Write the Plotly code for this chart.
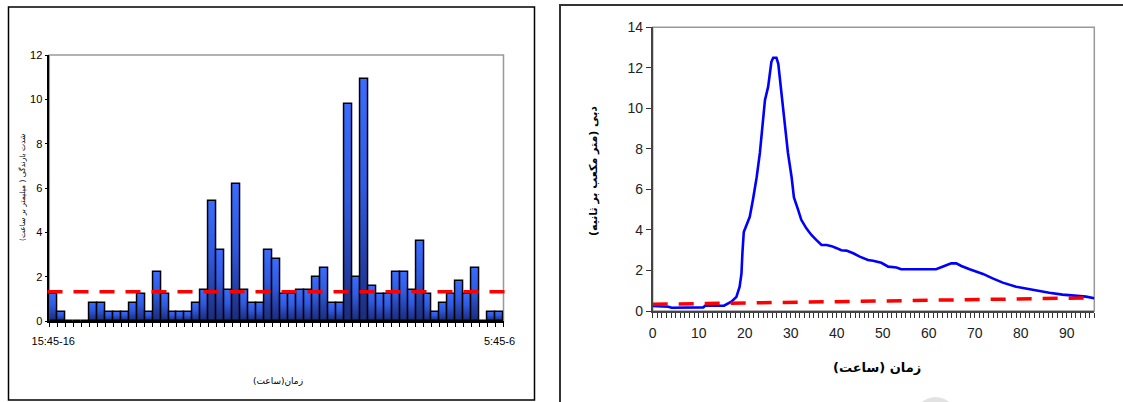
import plotly.graph_objects as go

# ---------------- data ----------------
# left chart: rainfall intensity per 15-minute interval (mm/h)
time_labels = ["15:45-16"]
_h, _m = 16, 0
for _ in range(55):
    _h2, _m2 = (_h, _m + 15) if _m + 15 < 60 else ((_h + 1) % 24, 0)
    a = f"{_h}" if _m == 0 else f"{_h}:{_m:02d}"
    b = f"{_h2}" if _m2 == 0 else f"{_h2}:{_m2:02d}"
    time_labels.append(f"{a}-{b}")
    _h, _m = _h2, _m2
time_labels.append("5:45-6")

rain = [1.2, 0.4, 0, 0, 0, 0.8, 0.8, 0.4, 0.4, 0.4, 0.8, 1.2, 0.4, 2.2, 1.2,
        0.4, 0.4, 0.4, 0.8, 1.4, 5.4, 3.2, 1.4, 6.2, 1.4, 0.8, 0.8, 3.2, 2.8,
        1.2, 1.2, 1.4, 1.4, 2.0, 2.4, 0.8, 0.8, 9.8, 2.0, 10.9, 1.6, 1.2, 1.2,
        2.2, 2.2, 1.4, 3.6, 1.2, 0.4, 0.8, 1.2, 1.8, 1.2, 2.4, 0, 0.4, 0.4]
rain_threshold = 1.32

# right chart: hydrograph (m3/s) vs time (h)
hours = [0, 3.4, 4.1, 11, 11.4, 15.5, 17.1, 18.2, 18.9, 19.3, 19.5, 19.8,
         20.4, 21.1, 21.8, 22.6, 23.3, 24, 24.4, 25.1, 25.8, 26.2, 26.9, 27.3,
         28, 28.7, 29.4, 30.2, 30.7, 31.6, 32.3, 33.4, 34.5, 35.6, 36.7, 37.8,
         38.9, 40, 41, 42.1, 43.6, 45, 46.8, 47.9, 49.7, 51.2, 53, 54,
         61.6, 63.4, 64.9, 66, 67.1, 68.9, 70.3, 71.8, 73.9, 76.1, 79, 81.2,
         83.7, 86.2, 89.1, 92, 94.2, 96]
flow = [0.25, 0.21, 0.16, 0.18, 0.26, 0.26, 0.46, 0.7, 1.2, 1.86, 2.85, 3.9,
        4.24, 4.65, 5.5, 6.6, 7.8, 9.26, 10.4, 11.07, 12.3, 12.5, 12.5, 12.2,
        10.7, 9.26, 7.8, 6.6, 5.6, 5.0, 4.5, 4.08, 3.75, 3.5, 3.26, 3.26,
        3.2, 3.1, 3.0, 2.98, 2.85, 2.68, 2.52, 2.48, 2.38, 2.19, 2.15, 2.06,
        2.06, 2.22, 2.35, 2.35, 2.22, 2.06, 1.94, 1.83, 1.61, 1.4, 1.2, 1.1,
        0.99, 0.9, 0.81, 0.77, 0.71, 0.63]
base_hours = [0, 20, 40, 60, 80, 96]
base_flow = [0.33, 0.40, 0.46, 0.52, 0.59, 0.65]

left_yticks = [0, 2, 4, 6, 8, 10, 12]
right_yticks = [0, 2, 4, 6, 8, 10, 12, 14]
right_xticks = [0, 10, 20, 30, 40, 50, 60, 70, 80, 90]

# ---------------- layout helpers ----------------
W, H = 1123, 402
def px(x): return x / W
def py(y): return 1 - y / H

NUM_FONT = "Liberation Sans Narrow, Liberation Sans, Arial, sans-serif"
NUM_FONT2 = "Liberation Sans, Arial, sans-serif"
AR_FONT = "DejaVu Sans, Noto Sans, sans-serif"

fig = go.Figure()

fig.add_trace(go.Bar(
    x=time_labels, y=rain, xaxis="x", yaxis="y",
    marker=dict(color="#2a50cc", line=dict(color="black", width=1.5)),
    hoverinfo="skip",
))

fig.add_trace(go.Scatter(
    x=hours, y=flow, xaxis="x2", yaxis="y2", mode="lines",
    line=dict(color="#0000ff", width=2.6),
    hoverinfo="skip",
))
fig.add_trace(go.Scatter(
    x=base_hours, y=base_flow, xaxis="x2", yaxis="y2", mode="lines",
    line=dict(color="#ff0000", width=3.5, dash="15px,11px"),
    hoverinfo="skip",
))

ticktext_left = [time_labels[0]] + [""] * (len(time_labels) - 2) + [time_labels[-1]]

fig.update_layout(
    width=W, height=H,
    margin=dict(l=0, r=0, t=0, b=0, autoexpand=False),
    paper_bgcolor="white", plot_bgcolor="white",
    showlegend=False, bargap=0,
    xaxis=dict(
        domain=[px(49.3), px(503.5)], anchor="y", type="category",
        range=[-0.5, len(time_labels) - 0.5], automargin=False,
        tickmode="array", tickvals=time_labels, ticktext=ticktext_left,
        tickson="boundaries", ticks="outside", ticklen=4, tickwidth=1,
        tickangle=0,
        tickcolor="black", showline=True, linecolor="black", linewidth=1.5,
        showgrid=False, zeroline=False, ticklabelstandoff=9,
        tickfont=dict(family=NUM_FONT, size=11, color="black"),
    ),
    yaxis=dict(
        domain=[py(321), py(55)], anchor="x", range=[0, 12], automargin=False,
        tickvals=left_yticks, ticks="outside", ticklen=3, tickcolor="black",
        showline=True, linecolor="black", linewidth=1.5,
        showgrid=False, zeroline=False,
        tickfont=dict(family=NUM_FONT, size=11, color="black"),
    ),
    xaxis2=dict(
        domain=[px(652.7), px(1094.3)], anchor="y2", range=[0, 96],
        automargin=False, tickangle=0,
        tickvals=right_xticks, ticks="outside", ticklen=5, tickcolor="#333",
        minor=dict(dtick=1, tick0=0, ticks="outside", ticklen=5,
                   tickcolor="#333", showgrid=False),
        showline=True, linecolor="#444", linewidth=1.5,
        showgrid=False, zeroline=False, ticklabelstandoff=3,
        tickfont=dict(family=NUM_FONT2, size=14, color="#222"),
    ),
    yaxis2=dict(
        domain=[py(311), py(27.3)], anchor="x2", range=[0, 14],
        automargin=False,
        tickvals=right_yticks, ticks="outside", ticklen=5, tickcolor="#333",
        showline=True, linecolor="#444", linewidth=1.5,
        showgrid=False, zeroline=False,
        tickfont=dict(family=NUM_FONT2, size=14, color="#222"),
    ),
    shapes=[
        # outer frames
        dict(type="rect", xref="paper", yref="paper",
             x0=px(8.5), x1=px(534.5), y0=py(400), y1=py(7),
             line=dict(color="black", width=1.5)),
        dict(type="rect", xref="paper", yref="paper",
             x0=px(560), x1=px(1140), y0=py(430), y1=py(5),
             line=dict(color="#333", width=2)),
        # plot area borders (top/right gray)
        dict(type="rect", xref="paper", yref="paper", layer="below",
             x0=px(49.3), x1=px(503.5), y0=py(321), y1=py(55),
             line=dict(color="#999", width=1.5)),
        dict(type="rect", xref="paper", yref="paper", layer="below",
             x0=px(652.7), x1=px(1094.3), y0=py(311), y1=py(27.3),
             line=dict(color="#999", width=1.5)),
        # rainfall threshold line
        dict(type="line", xref="paper", yref="y",
             x0=px(47.5), x1=px(510), y0=rain_threshold, y1=rain_threshold,
             line=dict(color="#ff0000", width=3.3, dash="15px,11px")),
        # faint watermark arc at bottom
        dict(type="circle", xref="paper", yref="paper",
             x0=px(914), x1=px(957), y0=py(440), y1=py(397),
             fillcolor="#e2e2e2", line=dict(width=0)),
    ],
    annotations=[
        dict(text="شدت بارندگی ( میلیمتر بر ساعت)", xref="paper", yref="paper",
             x=px(22), y=py(188), xanchor="center", yanchor="middle",
             showarrow=False, textangle=-90,
             font=dict(family=AR_FONT, size=7.5, color="black")),
        dict(text="زمان(ساعت)", xref="paper", yref="paper",
             x=px(278), y=py(381), xanchor="center", yanchor="middle",
             showarrow=False,
             font=dict(family=AR_FONT, size=9, color="black")),
        dict(text="<b>دبی (متر مکعب بر ثانیه)</b>", xref="paper", yref="paper",
             x=px(593), y=py(171), xanchor="center", yanchor="middle",
             showarrow=False, textangle=-90,
             font=dict(family=AR_FONT, size=11, color="black")),
        dict(text="<b>زمان (ساعت)</b>", xref="paper", yref="paper",
             x=px(877), y=py(367), xanchor="center", yanchor="middle",
             showarrow=False,
             font=dict(family=AR_FONT, size=13, color="black")),
    ],
)

post_js = """
document.body.style.margin='0';document.body.style.padding='0';
(function(){
  var gd = document.getElementById('{plot_id}');
  var svg = gd.querySelector('svg.main-svg');
  var ns = 'http://www.w3.org/2000/svg';
  var defs = svg.querySelector('defs');
  if(!defs){ defs = document.createElementNS(ns,'defs'); svg.insertBefore(defs, svg.firstChild); }
  var lg = document.createElementNS(ns,'linearGradient');
  lg.setAttribute('id','barGrad');
  lg.setAttribute('x1','0'); lg.setAttribute('y1','0');
  lg.setAttribute('x2','0'); lg.setAttribute('y2','1');
  [['0%','#3a6cff'],['45%','#2f5ae0'],['100%','#1b2c7c']].forEach(function(s){
    var st = document.createElementNS(ns,'stop');
    st.setAttribute('offset', s[0]); st.setAttribute('stop-color', s[1]);
    lg.appendChild(st);
  });
  defs.appendChild(lg);
  gd.querySelectorAll('.bars .point path').forEach(function(p){ p.style.fill = 'url(#barGrad)'; });
})();
"""

fig.write_html("out.html", post_script=post_js,
               config={"displayModeBar": False})
